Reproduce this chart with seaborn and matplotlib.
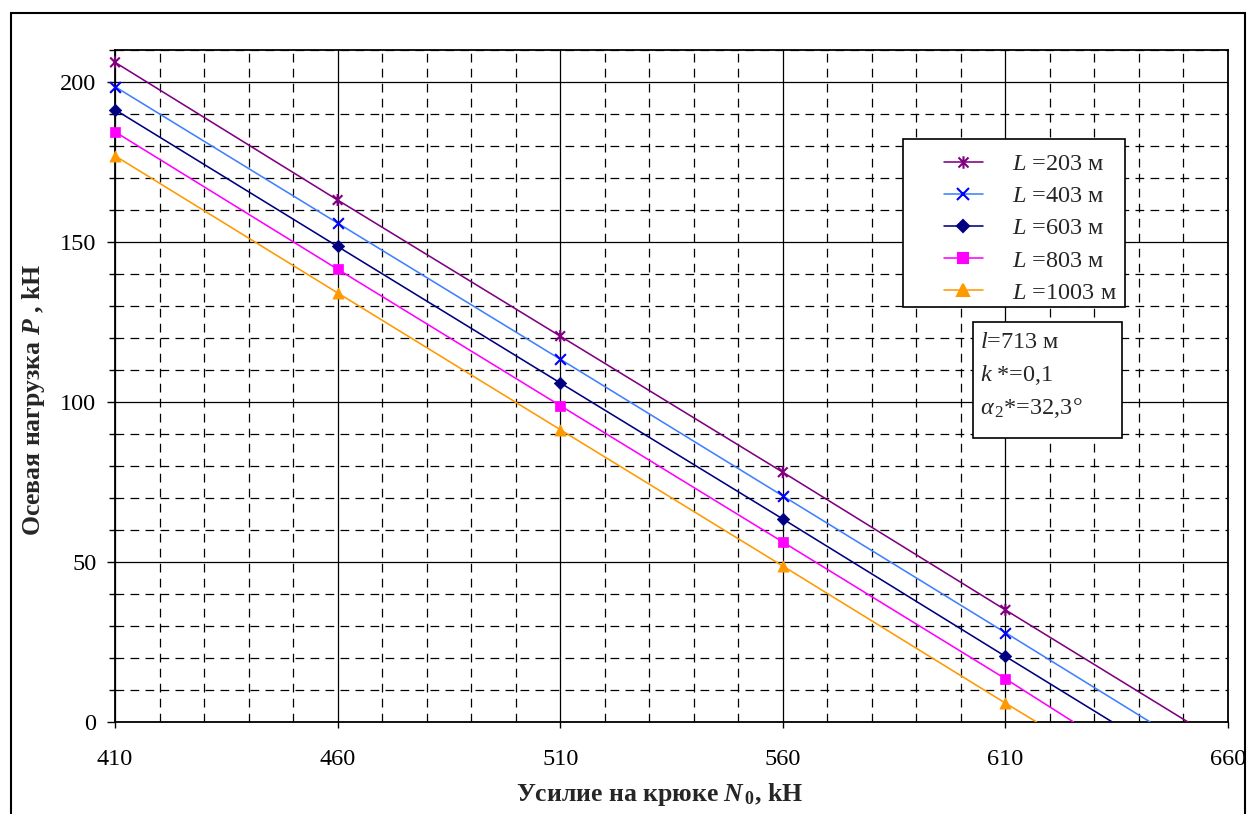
import matplotlib
matplotlib.use("Agg")
import matplotlib.pyplot as plt
import pandas as pd
import seaborn as sns
from matplotlib.path import Path
from matplotlib.lines import Line2D
from matplotlib.patches import Rectangle
from matplotlib.ticker import MultipleLocator

# Hook force N0, kN (marker positions)
N0 = [410, 460, 510, 560, 610]

# Drill string length L, m
lengths = ["203", "403", "603", "803", "1003"]

# Axial load P, kN, for each length
P_203 = [206.0, 163.0, 120.5, 78.0, 35.0]
P_403 = [198.4, 155.8, 113.3, 70.6, 27.9]
P_603 = [191.2, 148.5, 105.9, 63.4, 20.5]
P_803 = [184.3, 141.4, 98.8, 56.2, 13.5]
P_1003 = [176.8, 134.0, 91.3, 48.7, 5.9]

# Hook force at which the axial load drops to zero, kN
N0_zero = [651.0, 642.5, 634.0, 625.3, 617.0]

x_ticks = [410, 460, 510, 560, 610, 660]
y_ticks = [0, 50, 100, 150, 200]

series = [P_203, P_403, P_603, P_803, P_1003]

line_colors = ["#800080", "#4080FF", "#000080", "#FF00FF", "#FF9900"]
marker_colors = ["#800080", "#0000FF", "#000080", "#FF00FF", "#FF9900"]

# Excel-style asterisk: an "x" with a vertical bar
star_path = Path(
    [(0, -1), (0, 1), (-0.8, -0.8), (0.8, 0.8), (-0.8, 0.8), (0.8, -0.8)],
    [Path.MOVETO, Path.LINETO, Path.MOVETO, Path.LINETO, Path.MOVETO, Path.LINETO],
)
markers = [star_path, "x", "D", "s", "^"]
marker_sizes = [75, 60, 40, 48, 65]
legend_msizes = [9, 8, 6.3, 6.8, 8]

sns.set_theme(style="white")
plt.rcParams["font.family"] = ["Liberation Serif", "DejaVu Serif"]
plt.rcParams["mathtext.fontset"] = "custom"
plt.rcParams["mathtext.rm"] = "Liberation Serif"
plt.rcParams["mathtext.it"] = "Liberation Serif:italic"
plt.rcParams["mathtext.bf"] = "Liberation Serif:bold"
plt.rcParams["mathtext.bfit"] = "Liberation Serif:italic:bold"

# Long-form table: measured points plus the zero-load end of each line
rows = []
for L, P, nz in zip(lengths, series, N0_zero):
    for x, y in zip(N0, P):
        rows.append({"N0": x, "P": y, "L": L, "point": True})
    rows.append({"N0": nz, "P": 0.0, "L": L, "point": False})
df = pd.DataFrame(rows)

W, H = 1248, 814
fig = plt.figure(figsize=(W / 100, H / 100), dpi=100)
fig.patch.set_facecolor("white")
ax = fig.add_axes([115 / W, 1 - 722 / H, (1228 - 115) / W, (722 - 49.5) / H])
ax.set_facecolor("white")

sns.lineplot(
    data=df, x="N0", y="P", hue="L", hue_order=lengths,
    palette=dict(zip(lengths, line_colors)),
    estimator=None, errorbar=None, sort=True, legend=False,
    linewidth=1.15, ax=ax, zorder=3,
)

pts = df[df["point"]]
for L, m, mc, s in zip(lengths, markers, marker_colors, marker_sizes):
    sub = pts[pts["L"] == L]
    if isinstance(m, Path):
        sns.scatterplot(data=sub, x="N0", y="P", marker=m, s=s,
                        facecolor="none", edgecolor=mc,
                        linewidth=1.5, legend=False, ax=ax, zorder=4,
                        clip_on=False)
    elif m == "x":
        sns.scatterplot(data=sub, x="N0", y="P", marker=m, s=s, color=mc,
                        linewidth=1.5, legend=False, ax=ax, zorder=4,
                        clip_on=False)
    else:
        sns.scatterplot(data=sub, x="N0", y="P", marker=m, s=s, color=mc,
                        edgecolor=mc, linewidth=0.5, legend=False, ax=ax,
                        zorder=4, clip_on=False)

ax.set_xlim(410, 660)
ax.set_ylim(0, 210)
ax.set_xticks(x_ticks)
ax.set_yticks(y_ticks)
ax.xaxis.set_minor_locator(MultipleLocator(10))
ax.yaxis.set_minor_locator(MultipleLocator(10))
ax.set_axisbelow(True)
ax.grid(which="major", color="black", linewidth=0.9, linestyle="-")
ax.grid(which="minor", color="black", linewidth=0.9, linestyle=(0, (7, 5)))

ax.tick_params(axis="x", which="major", direction="out", length=4.5, width=1,
               pad=15, labelsize=17.5, bottom=True, colors="black")
ax.tick_params(axis="x", which="minor", length=0)
ax.tick_params(axis="y", which="major", direction="out", length=6, width=1,
               pad=7.5, labelsize=17.5, left=True, colors="black")
ax.tick_params(axis="y", which="minor", direction="out", length=4.5, width=1,
               left=True, colors="black")
for sp in ax.spines.values():
    sp.set_color("black")
    sp.set_linewidth(1.3)
    sp.set_visible(True)

ax.set_xlabel("")
ax.set_ylabel("")
fig.text(660 / W, 1 - 795 / H, r"Усилие на крюке $\mathbfit{N}_{\,\mathbf{0}}$, kH",
         ha="center", va="center", fontsize=18.5, fontweight="bold")
fig.text(34 / W, 1 - 400 / H, r"Осевая нагрузка $\mathbfit{P}$ , kH",
         ha="center", va="center", rotation=90, fontsize=18.5, fontweight="bold")

# Legend with its own frame
handles = [
    Line2D([], [], color=lc, marker=m, markerfacecolor=mc, markeredgecolor=mc,
           markersize=ms, markeredgewidth=1.5, linewidth=1.15)
    for lc, mc, m, ms in zip(line_colors, marker_colors, markers, legend_msizes)
]
labels = [rf"$L$ ={L} м" for L in lengths]
leg_frame = Rectangle((903 / W, 1 - 307 / H), (1125 - 903) / W, (307 - 139) / H,
                      transform=fig.transFigure, facecolor="white",
                      edgecolor="black", linewidth=1.2, zorder=4)
fig.add_artist(leg_frame)
leg = fig.legend(handles, labels, loc="upper left",
                 bbox_to_anchor=(944 / W, 1 - 153 / H), frameon=False,
                 borderpad=0, borderaxespad=0, handlelength=1.6,
                 handletextpad=1.2, labelspacing=0.42, fontsize=17.5)
leg.set_zorder(5)

# Parameter box
info_frame = Rectangle((973 / W, 1 - 438 / H), (1122 - 973) / W, (438 - 322) / H,
                       transform=fig.transFigure, facecolor="white",
                       edgecolor="black", linewidth=1.2, zorder=4)
fig.add_artist(info_frame)
info_lines = [r"$l$=713 м", r"$k$ *=0,1", r"$\alpha_{\,2}$*=32,3°"]
for yy, s in zip([342, 375, 408], info_lines):
    fig.text(980 / W, 1 - yy / H, s, ha="left", va="center", fontsize=17.5, zorder=6)

# Outer chart border
border = Rectangle((11 / W, -0.05), (1245 - 11) / W, 1 - 12.5 / H + 0.05,
                   transform=fig.transFigure, fill=False, edgecolor="black",
                   linewidth=1.5, zorder=10, clip_on=False)
fig.add_artist(border)

fig.savefig("out.png", dpi=100, facecolor="white")
